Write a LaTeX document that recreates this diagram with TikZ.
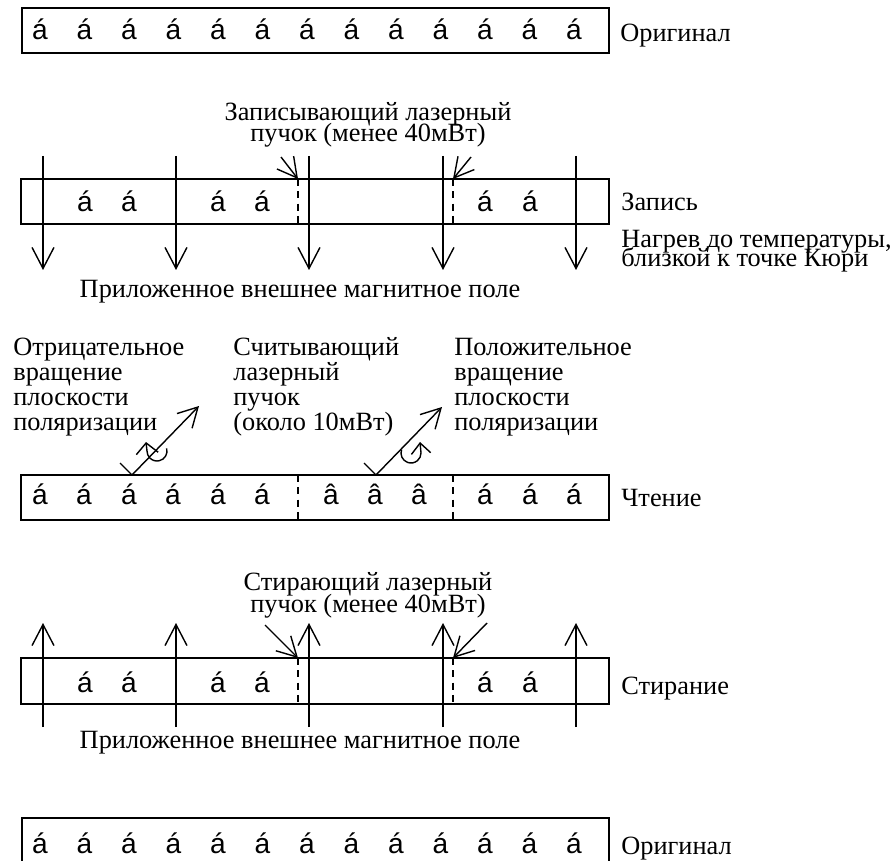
\documentclass[tikz,border=0pt]{standalone}
\usepackage{fontspec}
\setmainfont{Liberation Serif}
\newfontfamily\domfont{Liberation Sans}
\usetikzlibrary{arrows.meta,positioning,calc}
\newcommand\closelines{\lineskiplimit=-100pt\relax}

\begin{document}
\begin{tikzpicture}[x=0.02cm, y=-0.02cm,
  every node/.style={font=\fontsize{15}{15}\selectfont, inner sep=0pt},
  track/.style={draw, line width=0.8pt},
  dom/.style={anchor=base, font=\domfont\fontsize{16}{16}\selectfont},
  field/.style={line width=0.8pt, -{Straight Barb[length=12pt,width=12.5pt]}},
  beam/.style={line width=0.8pt, -{Straight Barb[length=11pt,width=12pt]}},
  spin/.style={line width=0.8pt, -{Straight Barb[length=6pt,width=#1]}},
  wall/.style={line width=0.6pt, dash pattern=on 4pt off 3pt},
  lbl/.style={anchor=base west},
  % multi-line labels: base anchor sits on the last line
  lines/.style={font={\fontsize{15}{#1}\selectfont\closelines}},
  tight/.style={anchor=base, align=center, lines=12.3},
  stack/.style={anchor=base west, align=left, lines=14.2}
]
\useasboundingbox (0,0) rectangle (895,861);

% original
\draw[track] (22,8) rectangle (609,53);
\foreach \i in {0,...,12}
  \node[dom] (o\i) at ({40+44.5*\i},40) {á};
\node[lbl] (orig) at (620,42) {Оригинал};

% writing
\draw[track] (21,179) rectangle (609,224);
\foreach \x [count=\k] in {85,129,218,262,485,530}
  \node[dom] (w\k) at (\x,212) {á};
\coordinate (wl) at (298,179);
\coordinate (wr) at (453,179);
\draw[wall] (wl) -- (298,224);
\draw[wall] (wr) -- (453,224);
\foreach \x [count=\k] in {43,176,309,443,576} {
  \coordinate (wt\k) at (\x,156);
  \coordinate (wb\k) at (\x,270);
  \draw[field] (wt\k) -- (wb\k);
}
\coordinate (wls) at (281,157);
\coordinate (wrs) at (471,157);
\draw[beam] (wls) -- (wl);
\draw[beam] (wrs) -- (wr);
\node[tight] (wlaser) at (368,142) {Записывающий лазерный\\пучок (менее 40мВт)};
\node[anchor=base] (wfield) at (300,297) {Приложенное внешнее магнитное поле};
\node[lbl] (write) at (621,211) {Запись};
\node[anchor=base west, align=left, lines=11.2] (heat) at (621,267) {Нагрев до температуры,\\близкой к точке Кюри};

% reading
\draw[track] (21,475) rectangle (609,520);
\foreach \x [count=\k] in {40,84,129,173,218,262,485,530,574}
  \node[dom] (r\k) at (\x,504) {á};
\foreach \x [count=\k] in {331,375,419}
  \node[dom] (u\k) at (\x,504) {â};
\draw[wall] (298,475) -- (298,520);
\draw[wall] (453,475) -- (453,520);
\coordinate (fl) at (132,475);
\coordinate (fr) at (376,475);
\coordinate (il) at (120,463);
\coordinate (ir) at (364,463);
\coordinate (tl) at (199,406);
\coordinate (tr) at (442,407);
\draw[line width=0.8pt] (il) -- (fl);
\draw[line width=0.8pt] (ir) -- (fr);
\draw[beam] (fl) -- (tl);
\draw[beam] (fr) -- (tr);
% rotation of the polarisation plane
\draw[spin=12.5pt] (157,451) ++(-15:10) arc[start angle=-15, end angle=180, radius=10] -- ++(-1,-9);
\draw[spin=11pt] (411,453) ++(200:10) arc[start angle=200, end angle=0, radius=10] -- ++(-1,-11);
\node[stack] (neg) at (13,430) {Отрицательное\\вращение\\плоскости\\поляризации};
\node[stack] (rlaser) at (233,430) {Считывающий\\лазерный\\пучок\\(около 10мВт)};
\node[stack] (pos) at (454,430) {Положительное\\вращение\\плоскости\\поляризации};
\node[lbl] (read) at (621,506) {Чтение};

% erasing
\draw[track] (21,658) rectangle (609,704);
\foreach \x [count=\k] in {85,129,218,262,485,530}
  \node[dom] (e\k) at (\x,692) {á};
\coordinate (el) at (298,658);
\coordinate (er) at (453,658);
\draw[wall] (el) -- (298,704);
\draw[wall] (er) -- (453,704);
\foreach \x [count=\k] in {43,176,309,443,576} {
  \coordinate (eb\k) at (\x,727);
  \coordinate (et\k) at (\x,623);
  \draw[field] (eb\k) -- (et\k);
}
\coordinate (els) at (265,625);
\coordinate (ers) at (487,623);
\draw[beam] (els) -- (el);
\draw[beam] (ers) -- (er);
\node[tight] (elaser) at (368,612) {Стирающий лазерный\\пучок (менее 40мВт)};
\node[anchor=base] (efield) at (300,748) {Приложенное внешнее магнитное поле};
\node[lbl] (erase) at (621,694) {Стирание};

% original again
\draw[track] (22,818) rectangle (609,864);
\foreach \i in {0,...,12}
  \node[dom] (b\i) at ({40+44.5*\i},853) {á};
\node[lbl] (orig2) at (621,854) {Оригинал};
\end{tikzpicture}
\end{document}
